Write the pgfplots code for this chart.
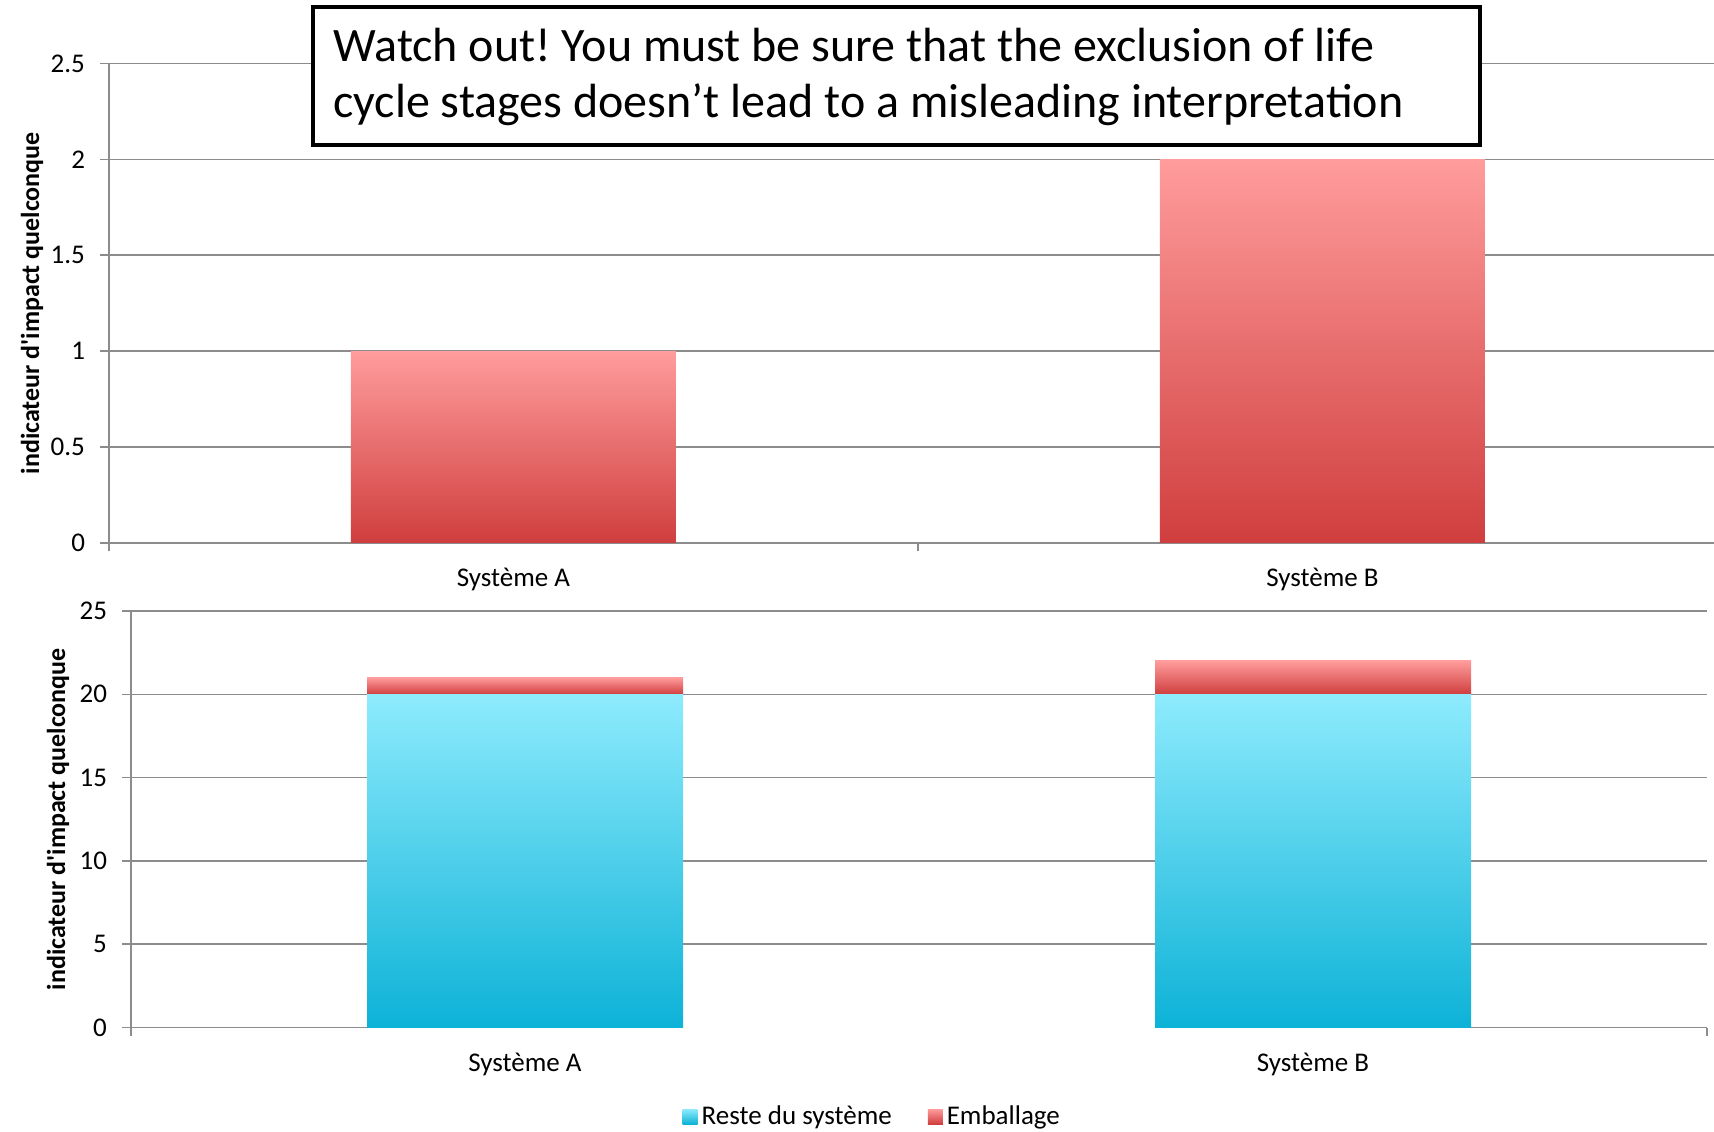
\documentclass[border=0pt]{standalone}
\usepackage{pgfplots}
\pgfplotsset{compat=1.18}
\usepackage{fontspec}
\setmainfont{Carlito}[Ligatures=TeXOff]
\definecolor{redT}{HTML}{FF9C9C}
\definecolor{redB}{HTML}{D03E3E}
\definecolor{cyT}{HTML}{8EEBFD}
\definecolor{cyB}{HTML}{0DB2D7}
\definecolor{gridc}{HTML}{8C8C8C}
\frenchspacing
\begin{document}
\begin{tikzpicture}
\useasboundingbox (0pt,0pt) rectangle (857pt,565.5pt);
\pgfplotsset{
 common/.style={
  scale only axis,
  anchor=south west,
  xmin=-0.5,
  xtick={0,1},
  xticklabels={Système A, Système B},
  major x tick style={draw=none},
  minor tick length=4pt,
  major tick length=4.5pt,
  tick align=outside,
  ymajorgrids,
  grid style={gridc, line width=0.75pt},
  axis x line*=bottom, axis y line*=left,
  axis line style={gridc, line width=0.75pt, -},
  every tick/.style={gridc, line width=0.75pt},
  tick label style={font=\fontsize{13.5}{15}\selectfont, /pgf/number format/assume math mode=true, black},
  yticklabel style={xshift=-4pt},
  xticklabel style={yshift=-4.5pt},
  ylabel={indicateur d'impact quelconque},
  every axis y label/.style={rotate=90, anchor=center, font=\bfseries\fontsize{13}{15}\selectfont},
 },
 sq legend/.style={legend image code/.code={\path[##1] (-3pt,-3.5pt) rectangle (4.5pt,4pt);}},
}
\begin{axis}[common, at={(54.5pt,294pt)}, width=802.5pt, height=239.8pt,
  ybar, bar shift=0pt, xmax=1.484, ymin=0, ymax=2.5,
  ytick={0,0.5,1,1.5,2,2.5}, yticklabels={0,0.5,1,1.5,2,2.5},
  minor xtick={-0.5,0.5}, bar width=162.5pt,
  ylabel style={at={(axis description cs:-0.048,0.5)}}]
\addplot[draw=none, top color=redT, bottom color=redB, bar shift=0pt] coordinates {(0,1)};
\addplot[draw=none, top color=redT, bottom color=redB, bar shift=0pt] coordinates {(1,2)};
\end{axis}
\begin{axis}[common, at={(65.5pt,51.75pt)}, width=788pt, height=208.25pt,
  ybar stacked, xmax=1.5, ymin=0, ymax=25,
  ytick={5,10,15,20,25}, extra y ticks={0}, extra y tick style={grid=none},
  x axis line style={draw=none},
  minor xtick={-0.5,1.5}, bar width=158pt,
  ylabel style={at={(axis description cs:-0.0463,0.5)}},
  legend style={at={(0.471,-0.215)}, anchor=center, legend columns=2, draw=none,
    font=\fontsize{13.5}{15}\selectfont, /tikz/every even column/.append style={column sep=16pt}}]
\addplot[draw=none, top color=cyT, bottom color=cyB, sq legend] coordinates {(0,20) (1,0)};
\addlegendentry{Reste du système}
\addplot[draw=none, top color=cyT, bottom color=cyB, forget plot] coordinates {(0,0) (1,20)};
\addplot[draw=none, top color=redT, bottom color=redB, sq legend] coordinates {(0,1) (1,0)};
\addlegendentry{Emballage}
\addplot[draw=none, top color=redT, bottom color=redB, forget plot] coordinates {(0,0) (1,2)};
\draw[gridc, line width=0.75pt] (axis cs:-0.5,0) -- (axis cs:0.085,0);
\draw[gridc, line width=0.75pt] (axis cs:0.914,0) -- (axis cs:1.5,0);
\end{axis}
\node[draw, fill=white, line width=2pt, anchor=north west, inner sep=0pt,
  minimum width=583.5pt, minimum height=69pt] at (155.5pt,563pt) {};
\node[anchor=base west, inner sep=0pt, font=\fontsize{24}{28}\selectfont] at (166.5pt,534.5pt) {Watch out! You must be sure that the exclusion of life};
\node[anchor=base west, inner sep=0pt, font=\fontsize{24}{28}\selectfont] at (166.5pt,506.5pt) {cycle stages doesn’t lead to a misleading interpretation};
\end{tikzpicture}
\end{document}
